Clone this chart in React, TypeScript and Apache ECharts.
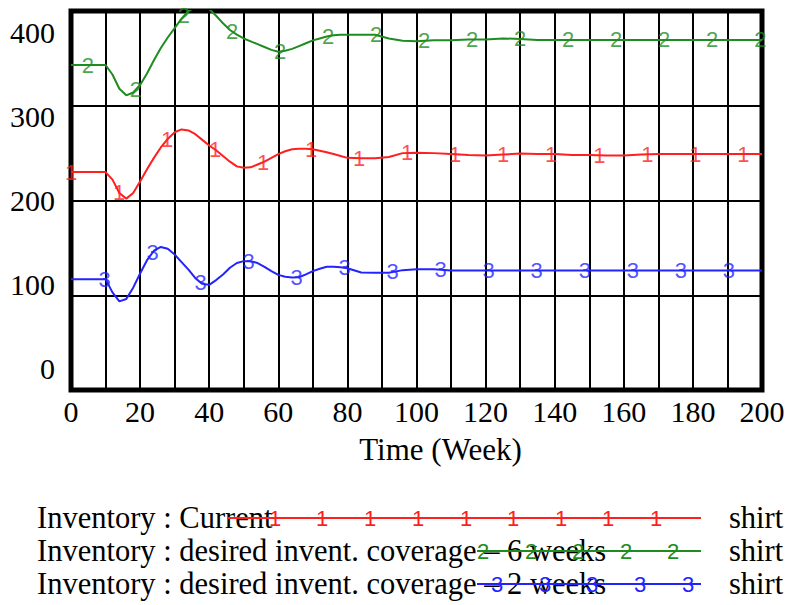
import React, { useEffect, useRef } from "react";
import * as echarts from "echarts";

// Simulation time (weeks)
const weeks = [
  0, 4, 8, 10, 12, 14, 16, 18, 20, 22, 24, 26, 28, 30, 32, 34, 36, 38, 40, 42,
  44, 46, 48, 50, 52, 54, 56, 58, 60, 62, 64, 66, 68, 70, 72, 74, 76, 78, 80,
  84, 88, 92, 96, 100, 105, 110, 115, 120, 125, 130, 135, 140, 145, 150, 155,
  160, 165, 170, 175, 180, 185, 190, 195, 200,
];

// Inventory : Current
const invCurrent = [
  230, 230, 230, 230, 222, 208, 202, 208, 220, 233, 245, 256, 265, 272, 275,
  274, 270, 264, 258, 253, 247, 241, 236, 234.5, 235, 238, 241, 245, 249, 252,
  254, 254.5, 254.5, 254, 252.5, 251, 249, 247, 245, 244.5, 244.5, 246, 250,
  250.5, 250, 249, 248, 247.5, 248.5, 249.5, 249, 249, 248, 248, 247.5, 247.5,
  248.5, 249, 249, 249, 249, 249, 249, 249,
];

// Inventory : desired invent. coverage – 6 weeks
const invCover6 = [
  343, 343, 343, 343, 333, 318, 311, 314, 322, 334, 348, 361, 372, 382, 392,
  400, 404, 405, 402, 395, 387, 380, 375, 371, 368, 365, 362, 359, 357, 358,
  360, 363, 366, 369, 371, 373, 374.5, 375, 375, 375, 375, 371, 368.5, 368,
  369, 369, 370, 370, 371, 370.5, 369.5, 369.5, 369.5, 369.5, 369.5, 369.5,
  369.5, 369.5, 369.5, 369.5, 369.5, 369.5, 369.5, 369.5,
];

// Inventory : desired invent. coverage – 2 weeks
const invCover2 = [
  117, 117, 117, 117, 103, 93.5, 96, 108, 123, 137, 147, 151, 149, 143, 135,
  127, 118, 112, 111, 116, 122, 129, 134, 136, 136, 134, 130, 125.5, 121.5,
  119.5, 118.8, 119, 122, 125.5, 128, 130, 130, 129.5, 128.5, 124, 123.8,
  123.8, 126.5, 127.4, 127.4, 126, 126, 126, 126, 126, 126, 126, 126, 126, 126,
  126, 126, 126, 126, 126, 126, 126, 126, 126,
];

// Weeks at which each curve carries its number tag
const tagWeeks1 = [0, 13.9, 27.8, 41.7, 55.6, 69.5, 83.4, 97.3, 111.2, 125.1, 139, 152.9, 166.8, 180.7, 194.6];
const tagWeeks2 = [4.9, 18.8, 32.7, 46.6, 60.5, 74.4, 88.3, 102.2, 116.1, 130, 143.9, 157.8, 171.7, 185.6, 199.5];
const tagWeeks3 = [9.7, 23.6, 37.5, 51.4, 65.3, 79.2, 93.1, 107, 120.9, 134.8, 148.7, 162.6, 176.5, 190.4];

const yTicks = [0, 100, 200, 300, 400];

const RED = "#ff1f1f";
const GREEN = "#1e8c1e";
const BLUE = "#2323ff";
const SERIF = "Liberation Serif";
const SANS = "Liberation Sans";

function valueAt(values: number[], t: number): number {
  for (let i = 1; i < weeks.length; i++) {
    if (t <= weeks[i]) {
      const t0 = weeks[i - 1];
      const t1 = weeks[i];
      const f = (t - t0) / (t1 - t0);
      return values[i - 1] + f * (values[i] - values[i - 1]);
    }
  }
  return values[values.length - 1];
}

function curve(name: string, values: number[], color: string) {
  return {
    name,
    type: "line",
    data: weeks.map((w, i) => [w, values[i]]),
    showSymbol: false,
    symbol: "none",
    lineStyle: { color, width: 2 },
    clip: true,
    z: 3,
  };
}

function tags(values: number[], at: number[], digit: string, color: string) {
  return {
    type: "scatter",
    data: at.map((t) => [t, Math.min(valueAt(values, t), 400)]),
    symbolSize: 1,
    itemStyle: { color: "rgba(0,0,0,0)" },
    label: {
      show: true,
      position: "inside",
      formatter: digit,
      color,
      fontFamily: SANS,
      fontSize: 22,
    },
    silent: true,
    z: 4,
  };
}

type LegendRow = {
  text: string;
  color: string;
  digit: string;
  y: number;
  x1: number;
  marks: number[];
};

const legendRows: LegendRow[] = [
  { text: "Inventory : Current", color: RED, digit: "1", y: 518, x1: 228, marks: [275, 322, 370, 418, 466, 513, 561, 608, 656] },
  { text: "Inventory : desired invent. coverage – 6 weeks", color: GREEN, digit: "2", y: 551, x1: 477, marks: [483, 531, 578, 626, 673] },
  { text: "Inventory : desired invent. coverage – 2 weeks", color: BLUE, digit: "3", y: 584, x1: 477, marks: [497, 545, 592, 640, 688] },
];

function legendGraphics() {
  const els: any[] = [];
  legendRows.forEach((r) => {
    els.push({
      type: "text",
      x: 37,
      y: r.y,
      style: {
        text: r.text,
        fill: "#000",
        font: `30.5px "${SERIF}"`,
        textVerticalAlign: "middle",
      },
      z: 10,
    });
    els.push({
      type: "line",
      shape: { x1: r.x1, y1: r.y, x2: 701, y2: r.y },
      style: { stroke: r.color, lineWidth: 2 },
      z: 11,
    });
    r.marks.forEach((mx) => {
      els.push({
        type: "text",
        x: mx,
        y: r.y,
        style: {
          text: r.digit,
          fill: r.color,
          font: `22px "${SANS}"`,
          textAlign: "center",
          textVerticalAlign: "middle",
        },
        z: 12,
      });
    });
    els.push({
      type: "text",
      x: 729,
      y: r.y,
      style: {
        text: "shirt",
        fill: "#000",
        font: `30.5px "${SERIF}"`,
        textVerticalAlign: "middle",
      },
      z: 10,
    });
  });
  return els;
}

export default function App() {
  const ref = useRef<HTMLDivElement>(null);

  useEffect(() => {
    if (!ref.current) return;
    const chart = echarts.init(ref.current, null, { renderer: "svg" });
    chart.setOption({
      animation: false,
      backgroundColor: "#fff",
      grid: {
        left: 71,
        top: 11,
        width: 691,
        height: 379,
        show: true,
        borderColor: "#000",
        borderWidth: 5,
        backgroundColor: "#fff",
      },
      xAxis: {
        type: "value",
        min: 0,
        max: 200,
        interval: 10,
        axisLine: { show: false },
        axisTick: { show: false },
        splitLine: { show: true, lineStyle: { color: "#000", width: 2 } },
        axisLabel: {
          formatter: (v: number) => (v % 20 === 0 ? String(v) : ""),
          color: "#000",
          fontFamily: SERIF,
          fontSize: 30,
          margin: 6,
        },
        name: "Time (Week)",
        nameLocation: "middle",
        nameGap: 44,
        nameTextStyle: {
          color: "#000",
          fontFamily: SERIF,
          fontSize: 31,
          padding: [0, 0, 0, 48],
        },
      },
      yAxis: [
        {
          type: "value",
          min: 0,
          max: 400,
          interval: 100,
          axisLine: { show: false },
          axisTick: { show: false },
          axisLabel: { show: false },
          splitLine: { show: true, lineStyle: { color: "#000", width: 2 } },
        },
        {
          // label-only axis: the value labels sit slightly inside the frame
          type: "value",
          position: "left",
          min: -26.19,
          max: 425,
          axisLine: { show: false },
          axisTick: { show: false },
          splitLine: { show: false },
          axisLabel: {
            customValues: yTicks,
            color: "#000",
            fontFamily: SERIF,
            fontSize: 30,
            margin: 16,
          },
        },
      ],
      series: [
        curve("Inventory : Current", invCurrent, RED),
        curve("Inventory : desired invent. coverage – 6 weeks", invCover6, GREEN),
        curve("Inventory : desired invent. coverage – 2 weeks", invCover2, BLUE),
        tags(invCurrent, tagWeeks1, "1", RED),
        tags(invCover6, tagWeeks2, "2", GREEN),
        tags(invCover2, tagWeeks3, "3", BLUE),
      ],
      graphic: legendGraphics(),
    });
    return () => chart.dispose();
  }, []);

  return (
    <div
      ref={ref}
      style={{ position: "absolute", left: 0, top: 0, width: 793, height: 605 }}
    />
  );
}
